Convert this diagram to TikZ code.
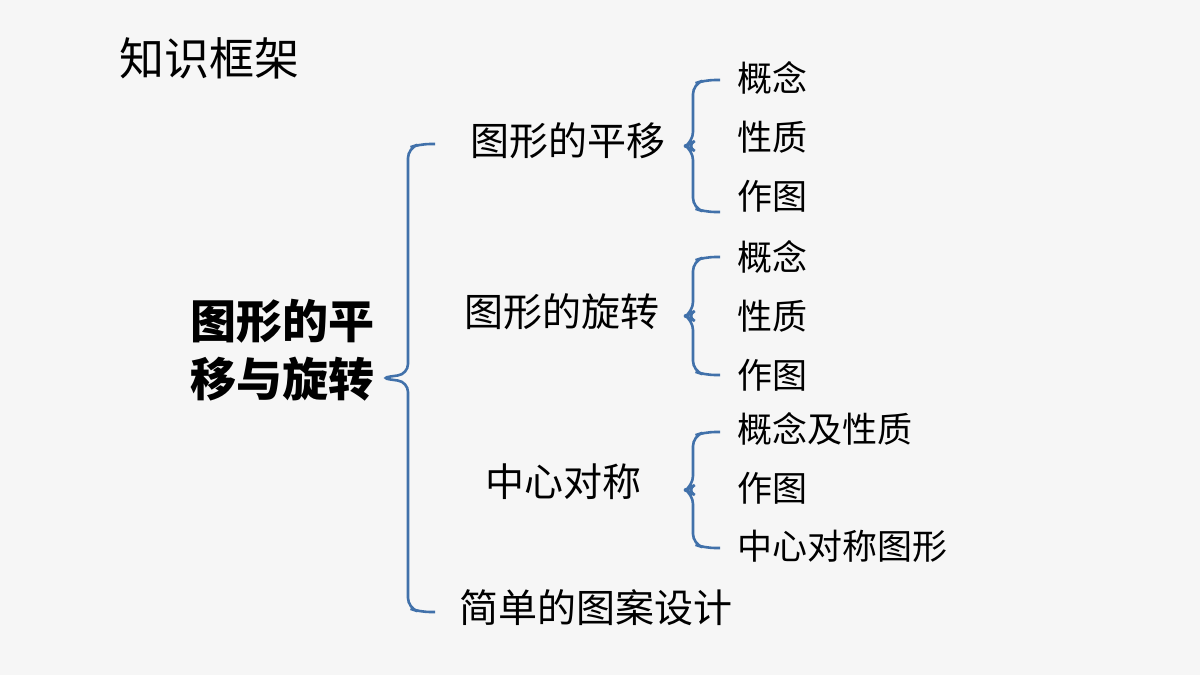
\documentclass[tikz,border=0pt]{standalone}
\usepackage{fontspec}
\newfontfamily\cjk{Noto Sans CJK SC}
\usetikzlibrary{positioning}
\definecolor{bracecol}{RGB}{65,113,170}
\definecolor{bgcol}{RGB}{246,246,246}
\tikzset{every picture/.style={line width=0.75pt}}
% brace with tip at (#1,#2), half height #3, opening to the right
\newcommand\kbrace[4]{%
  \draw[brace] (#1+#4,#2-#3) -- (#1+#4-15,#2-#3) -- (#1+#4-27,#2-#3+4) -- (#1+#4-27,#2-4) -- (#1,#2)
    -- (#1+#4-27,#2+4) -- (#1+#4-27,#2+#3-4) -- (#1+#4-15,#2+#3) -- (#1+#4,#2+#3);}

\begin{document}
\begin{tikzpicture}[x=0.5pt,y=-0.5pt,font=\cjk,
    brace/.style={draw=bracecol,line width=1.3pt,rounded corners=5pt},
    top/.style={font=\cjk\bfseries\fontsize{23}{29}\selectfont,align=left},
    mid/.style={font=\cjk\fontsize{19.5}{22}\selectfont},
    leaf/.style={font=\cjk\fontsize{17.5}{20}\selectfont,anchor=west}]
  \fill[bgcol] (0,0) rectangle (1200,675);
  \useasboundingbox (0,0) rectangle (1200,675);

  \node[font=\cjk\fontsize{22.5}{26}\selectfont,anchor=west] (title) at (112,58) {知识框架};
  \node[top] (root) at (282,350) {图形的平\\移与旋转};

  \node[mid] (tr) at (568,141) {图形的平移};
  \node[mid] (ro) at (562,312) {图形的旋转};
  \node[mid] (cs) at (563,482) {中心对称};
  \node[mid] (pd) at (596,608) {简单的图案设计};

  \node[leaf] (tr1) at (730,78) {概念};
  \node[leaf] (tr2) at (730,137) {性质};
  \node[leaf] (tr3) at (730,196) {作图};
  \node[leaf] (ro1) at (730,257) {概念};
  \node[leaf] (ro2) at (730,316) {性质};
  \node[leaf] (ro3) at (730,375) {作图};
  \node[leaf] (cs1) at (730,429) {概念及性质};
  \node[leaf] (cs2) at (730,488) {作图};
  \node[leaf] (cs3) at (730,546) {中心对称图形};

  \kbrace{380}{378}{234}{55}
  \kbrace{686}{146}{66}{34}
  \kbrace{686}{316}{59}{34}
  \kbrace{686}{490}{58}{34}
\end{tikzpicture}
\end{document}
